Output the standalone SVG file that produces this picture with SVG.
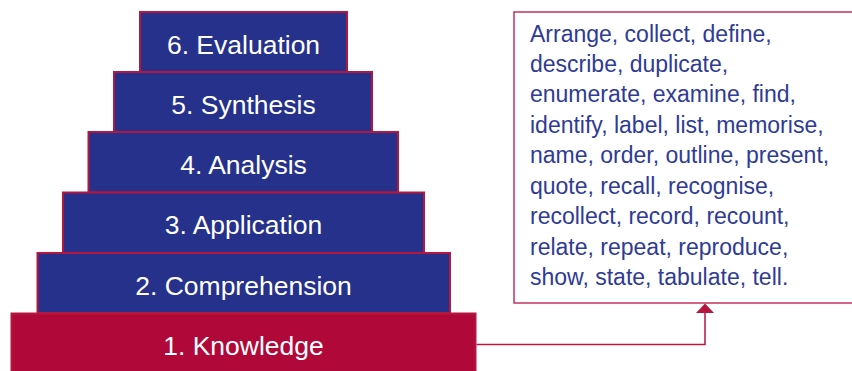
<svg xmlns="http://www.w3.org/2000/svg" width="852" height="371" viewBox="0 0 852 371">
<style>
.lvl{fill:#25318a;stroke:#b3163f;stroke-width:2}
.base{fill:#b00838;stroke:#b3163f;stroke-width:2}
.lbl{font-family:"Liberation Sans",Arial,sans-serif;font-size:26.5px;fill:#ffffff;text-anchor:middle}
.verbs{font-family:"Liberation Sans",Arial,sans-serif;font-size:23px;fill:#2f3b95}
.box{fill:#ffffff;stroke:#c2345c;stroke-width:1.5}
.conn{fill:none;stroke:#b3163f;stroke-width:1.5}
</style>
<rect width="852" height="371" fill="#ffffff"/>
<g id="level6"><rect class="lvl" x="140" y="12" width="207" height="60"/><text class="lbl" x="243.5" y="54">6. Evaluation</text></g>
<g id="level5"><rect class="lvl" x="114" y="72" width="258" height="60"/><text class="lbl" x="243.5" y="113.5">5. Synthesis</text></g>
<g id="level4"><rect class="lvl" x="88.5" y="132" width="309.5" height="60.5"/><text class="lbl" x="243.5" y="173.5">4. Analysis</text></g>
<g id="level3"><rect class="lvl" x="63" y="192.5" width="361" height="60.5"/><text class="lbl" x="243.5" y="233.5">3. Application</text></g>
<g id="level2"><rect class="lvl" x="37.5" y="253" width="412.5" height="60"/><text class="lbl" x="243.5" y="294.5">2. Comprehension</text></g>
<g id="level1"><rect class="base" x="11.5" y="313.5" width="464" height="60"/><text class="lbl" x="243.5" y="354.5">1. Knowledge</text></g>
<g id="verbs-box"><rect class="box" x="514" y="12" width="345" height="291"/>
<text class="verbs" x="530" y="42">Arrange, collect, define,</text>
<text class="verbs" x="530" y="72">describe, duplicate,</text>
<text class="verbs" x="530" y="102">enumerate, examine, find,</text>
<text class="verbs" x="530" y="133">identify, label, list, memorise,</text>
<text class="verbs" x="530" y="163">name, order, outline, present,</text>
<text class="verbs" x="530" y="194">quote, recall, recognise,</text>
<text class="verbs" x="530" y="224">recollect, record, recount,</text>
<text class="verbs" x="530" y="255">relate, repeat, reproduce,</text>
<text class="verbs" x="530" y="285">show, state, tabulate, tell.</text>
</g>
<g id="connectors">
<path class="conn" d="M476.5 344.5 H705 V312"/>
<polygon points="705,303.5 696,313 714,313" fill="#b3163f"/>
</g>
</svg>
